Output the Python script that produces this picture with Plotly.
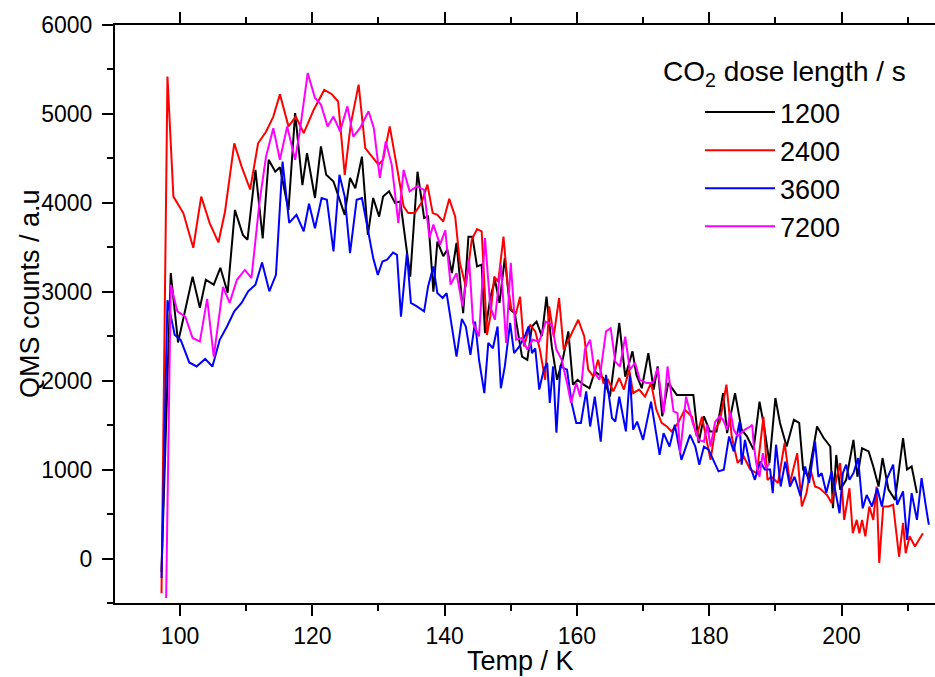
import plotly.graph_objects as go

# ---- data ----
series_names = ["1200", "2400", "3600", "7200"]
series_colors = ["#000000", "#ff0000", "#0000ff", "#ff00ff"]

t_1200 = [97.2, 98.6, 99.7, 101.9, 103.0, 103.9, 105.1, 106.1, 107.2, 108.3, 109.5, 110.2, 111.4, 112.5, 113.4,
          114.4, 115.1, 116.4, 117.4, 118.5, 119.2, 120.4, 121.3, 122.1, 123.2, 124.1, 124.9, 125.7, 126.5, 127.5,
          128.4, 129.2, 130.1, 130.7, 131.6, 132.5, 133.3, 134.8, 135.9, 136.9, 137.5, 138.3, 138.9, 139.8, 140.4,
          141.1, 141.8, 142.8, 143.6, 144.2, 144.9, 145.6, 146.1, 146.9, 147.6, 148.3, 149.1, 149.9, 150.6, 151.7,
          152.5, 153.2, 153.9, 154.7, 155.4, 156.2, 157.0, 157.9, 158.7, 159.4, 160.1, 161.0, 161.9, 162.7, 164.0,
          165.0, 166.4, 167.3, 168.4, 169.0, 169.8, 170.8, 171.6, 172.2, 172.9, 173.8, 175.1, 176.3, 177.6, 178.4,
          179.2, 180.1, 181.1, 182.1, 182.7, 183.9, 184.9, 185.7, 186.7, 187.6, 188.3, 189.1, 190.0, 190.7, 191.7,
          192.8, 193.6, 194.2, 195.0, 196.3, 197.3, 198.3, 198.7, 199.2, 199.8, 200.7, 201.8, 202.4, 203.1, 204.1,
          204.8, 205.6, 206.2, 207.1, 208.1, 209.3, 209.9, 210.6, 211.4]
v_1200 = [-150, 3210, 2430, 3170, 2820, 3135, 3080, 3270, 2990, 3920, 3640, 3585, 4370, 3600, 4485,
          4350, 4400, 3920, 5010, 4200, 4560, 4055, 4635, 4315, 4240, 4035, 3865, 4280, 4165, 4520,
          3640, 4055, 3845, 4070, 4130, 4000, 4015, 3170, 4350, 3830, 3845, 3000, 3565, 3400, 3475,
          3210, 3550, 2760, 3620, 3620, 3285, 3305, 2535, 2930, 3135, 2875, 3380, 2800, 2760, 2270,
          2235, 2610, 2665, 2500, 2945, 2385, 2010, 2255, 2555, 1955, 2010, 1955, 1915, 2105, 2030,
          1820, 2650, 2045, 2330, 2065, 1915, 2310, 1900, 2160, 1600, 1975, 1840, 1840, 1840, 1300,
          1600, 1430, 1430, 1860, 1410, 1860, 1450, 1375, 1225, 1765, 1485, 1075, 1805, 1525, 1260,
          1560, 1525, 1000, 920, 1485, 1355, 1260, 565, 1165, 775, 885, 1335, 920, 1240, 1205,
          1035, 810, 1130, 775, 660, 1355, 1000, 1035, 735]

t_2400 = [97.2, 98.1, 99.0, 100.5, 102.0, 103.2, 104.5, 105.8, 106.8, 108.2, 109.3, 110.6, 111.8, 113.0, 114.1,
          115.1, 116.4, 117.5, 118.7, 120.2, 121.8, 122.9, 123.9, 124.9, 125.8, 127.0, 128.0, 130.0, 130.7, 131.7,
          132.9, 133.8, 134.5, 135.5, 136.5, 137.4, 138.2, 138.9, 139.8, 140.7, 141.6, 142.3, 143.2, 144.1, 144.9,
          145.6, 146.4, 146.9, 147.5, 148.1, 148.9, 149.5, 150.1, 150.8, 151.4, 152.0, 152.9, 153.7, 154.4, 155.2,
          155.8, 156.5, 157.3, 158.0, 159.0, 160.2, 161.1, 161.7, 162.5, 163.2, 164.0, 164.7, 165.5, 166.4, 167.1,
          167.9, 168.5, 169.4, 170.3, 171.2, 172.0, 172.8, 173.6, 174.3, 175.3, 176.3, 177.4, 178.1, 178.9, 179.5,
          180.2, 180.9, 181.6, 182.6, 183.4, 184.3, 185.2, 186.2, 187.2, 188.2, 188.8, 189.4, 190.4, 191.4, 192.2,
          193.3, 194.0, 194.7, 195.3, 196.0, 196.7, 197.8, 198.5, 199.2, 199.8, 200.4, 201.2, 201.7, 202.3, 202.7,
          203.1, 203.6, 204.2, 204.8, 205.3, 205.7, 206.3, 207.1, 207.8, 208.7, 209.3, 209.7, 210.3, 211.1, 212.3]
v_2400 = [-390, 5420, 4070, 3885, 3495, 4070, 3770, 3555, 3900, 4670, 4410, 4150, 4670, 4800, 4970,
          5220, 4860, 4970, 4785, 5045, 5270, 5225, 5140, 4315, 4880, 5330, 4615, 4430, 4485, 4860,
          4355, 3960, 3885, 3885, 4000, 4205, 3885, 3865, 3790, 4045, 3845, 3325, 3060, 3585, 3705,
          3680, 2515, 2720, 3170, 3115, 3620, 3100, 2800, 2760, 2945, 2385, 2630, 2555, 2350, 2010,
          2835, 2500, 2930, 2350, 2500, 2685, 2500, 2125, 2045, 2235, 1975, 2010, 1880, 2030, 1900,
          2125, 1860, 1900, 1820, 1975, 1675, 1525, 1485, 1430, 1525, 1675, 1595, 1375, 1595, 1375,
          1110, 1450, 1540, 1955, 1375, 1075, 1150, 1000, 960, 1595, 885, 920, 850, 1300, 850,
          1185, 585, 735, 1000, 810, 790, 715, 625, 885, 1075, 435, 790, 285, 435, 285,
          435, 250, 585, 435, 810, -50, 585, 585, 605, 20, 400, 60, 250, 135, 285]

t_3600 = [97.2, 98.1, 99.2, 100.1, 101.4, 102.5, 103.8, 104.9, 106.0, 107.1, 108.2, 109.3, 110.3, 111.4, 112.4,
          113.5, 114.5, 115.5, 116.5, 117.6, 118.7, 119.5, 120.4, 121.4, 122.2, 123.2, 124.1, 124.9, 125.7, 126.7,
          127.5, 128.5, 129.2, 129.9, 130.6, 131.3, 132.2, 132.8, 133.4, 134.3, 134.9, 135.8, 136.9, 137.5, 138.3,
          138.9, 139.7, 140.3, 141.1, 141.8, 142.6, 143.2, 143.9, 144.6, 145.2, 146.0, 146.6, 147.3, 148.0, 148.5,
          149.1, 149.9, 150.5, 151.3, 152.2, 152.7, 153.2, 153.7, 154.3, 155.0, 155.5, 155.9, 156.4, 156.9, 157.5,
          158.5, 159.2, 159.9, 160.6, 161.4, 162.0, 162.7, 163.6, 164.4, 165.3, 165.8, 166.4, 167.4, 168.0, 168.5,
          169.1, 170.0, 171.2, 172.5, 173.1, 174.0, 174.8, 175.8, 177.1, 177.9, 178.5, 179.2, 179.9, 180.5, 181.4,
          182.2, 183.0, 183.7, 184.6, 184.9, 185.4, 186.2, 186.9, 187.7, 188.4, 189.2, 189.6, 190.1, 190.8, 191.5,
          192.2, 192.9, 193.8, 194.5, 195.1, 196.0, 196.5, 197.0, 197.7, 198.5, 199.0, 199.7, 200.2, 200.7, 201.2,
          201.8, 202.5, 203.2, 203.8, 204.6, 205.4, 206.1, 206.8, 207.8, 208.4, 209.3, 209.9, 210.6, 211.4, 212.1,
          212.8, 213.2]
v_3600 = [-220, 2905, 2515, 2460, 2205, 2160, 2245, 2160, 2460, 2610, 2780, 2875, 3005, 3080, 3330,
          3005, 3190, 4465, 3775, 3865, 3680, 3990, 3715, 4055, 4035, 3455, 4315, 4070, 3435, 4035,
          4055, 3640, 3380, 3190, 3340, 3360, 3440, 3415, 2720, 3435, 2875, 2835, 2780, 3060, 3285,
          2985, 2930, 2985, 2575, 2270, 2695, 2610, 2290, 2665, 2235, 1860, 2425, 2365, 2610, 1915,
          2160, 2650, 2310, 2385, 2515, 2610, 2310, 2365, 1900, 2125, 2200, 1750, 2160, 1415, 2160,
          2125, 1750, 1525, 1525, 1880, 1485, 1820, 1315, 2065, 1580, 1540, 1820, 1430, 2065, 1450,
          1540, 1335, 1765, 1165, 1410, 1260, 1505, 1110, 1390, 1260, 1055, 1260, 1225, 1130, 980,
          1000, 1373, 1205, 1540, 1055, 1335, 1035, 885, 1090, 1000, 1000, 735, 1280, 810, 1090,
          810, 920, 700, 1035, 850, 1315, 920, 960, 740, 980, 775, 510, 960, 1055, 885,
          960, 1130, 565, 715, 585, 790, 585, 885, 1055, 605, 755, 210, 735, 435, 905,
          565, 380]

t_7200 = [97.9, 98.6, 99.6, 100.8, 101.9, 103.0, 104.1, 105.1, 106.5, 107.5, 108.6, 109.8, 110.8, 112.0, 113.0,
          114.1, 115.1, 116.2, 117.4, 118.1, 119.3, 120.4, 121.3, 122.3, 123.2, 124.2, 125.3, 126.2, 127.2, 128.5,
          129.3, 130.2, 131.1, 132.0, 133.0, 133.8, 134.7, 135.8, 136.9, 137.7, 138.3, 139.3, 140.1, 140.9, 141.8,
          142.7, 143.7, 144.3, 145.2, 146.1, 146.9, 147.6, 148.5, 149.3, 150.0, 150.8, 151.7, 152.5, 153.3, 154.3,
          155.3, 156.2, 156.9, 157.7, 158.5, 159.1, 159.9, 160.5, 161.2, 162.0, 162.7, 163.4, 164.4, 165.1, 165.8,
          166.5, 167.3, 168.0, 168.8, 169.5, 170.5, 171.5, 172.2, 173.1, 173.7, 174.6, 175.2, 175.6, 176.5, 177.5,
          178.4, 179.2, 179.7, 180.2, 180.9, 181.6, 182.1, 182.7, 183.2, 183.7, 184.3, 184.8, 185.4, 186.2, 186.5,
          186.7, 187.1, 187.6, 188.1, 188.6, 189.1]
v_7200 = [-445, 3080, 2780, 2720, 2480, 2440, 2920, 2270, 3055, 2875, 3135, 3245, 3155, 4000, 4520,
          4840, 4485, 4860, 4485, 4800, 5460, 5180, 5105, 4860, 4970, 4805, 5085, 4745, 4840, 5030,
          4840, 4280, 4690, 4430, 3775, 4370, 4130, 4185, 4145, 3605, 3755, 3530, 3690, 3080, 3210,
          2835, 3360, 2650, 2500, 3605, 2835, 2685, 3305, 2425, 3325, 2460, 2480, 2350, 2460, 2440,
          2665, 2630, 2350, 2235, 1975, 1750, 1975, 1820, 2350, 2460, 2085, 2010, 2555, 2590, 2215,
          2160, 2495, 2125, 2200, 2010, 1975, 1975, 2140, 1635, 2160, 1655, 1635, 1185, 1820, 1525,
          1335, 1315, 1505, 1260, 1540, 1600, 1560, 1450, 1655, 1450, 1375, 1410, 1450, 1485, 1505,
          1300, 1075, 920, 1185, 1015, 1075]

x_tick_vals = [100, 120, 140, 160, 180, 200]
y_tick_vals = [0, 1000, 2000, 3000, 4000, 5000, 6000]

all_t = [t_1200, t_2400, t_3600, t_7200]
all_v = [v_1200, v_2400, v_3600, v_7200]

FONT = "Liberation Sans, Arial, sans-serif"

fig = go.Figure()
for name, color, t, v in zip(series_names, series_colors, all_t, all_v):
    fig.add_trace(go.Scatter(x=t, y=v, mode="lines", name=name,
                             line=dict(color=color, width=2)))

W, H = 935, 677
L, R, T, B = 115, 0, 25, 74
pw, ph = W - L - R, H - T - B

def px_x(p):
    return (p - L) / pw

def px_y(p):
    return (H - B - p) / ph

fig.update_layout(
    width=W, height=H,
    margin=dict(l=L, r=R, t=T, b=B, pad=0),
    paper_bgcolor="white", plot_bgcolor="white",
    font=dict(family=FONT, color="black", size=22),
    showlegend=True,
    legend=dict(x=px_x(700), y=px_y(88), xanchor="left", yanchor="top",
                font=dict(family=FONT, size=27, color="black"),
                bgcolor="rgba(0,0,0,0)", borderwidth=0,
                itemwidth=70, tracegroupgap=0),
    xaxis=dict(range=[90.17, 214.13], showgrid=False, zeroline=False,
               showline=True, linecolor="black", linewidth=2, mirror="ticks",
               ticks="outside", ticklen=11, tickwidth=2, tickcolor="black",
               tickvals=x_tick_vals,
               tickfont=dict(family=FONT, size=23, color="black"),
               minor=dict(dtick=10, tick0=90, ticks="outside", ticklen=6,
                          tickwidth=2, tickcolor="black", showgrid=False)),
    yaxis=dict(range=[-500, 6000], showgrid=False, zeroline=False,
               showline=True, linecolor="black", linewidth=2, mirror=False,
               ticks="outside", ticklen=11, tickwidth=2, tickcolor="black",
               tickvals=y_tick_vals, ticklabelstandoff=5,
               tickfont=dict(family=FONT, size=23, color="black"),
               minor=dict(dtick=500, tick0=0, ticks="outside", ticklen=6,
                          tickwidth=2, tickcolor="black", showgrid=False)),
    annotations=[
        dict(text="Temp / K", xref="paper", yref="paper", x=px_x(520), y=px_y(661),
             xanchor="center", yanchor="middle", showarrow=False,
             font=dict(family=FONT, size=27, color="black")),
        dict(text="QMS counts / a.u", xref="paper", yref="paper", x=px_x(30), y=px_y(294),
             xanchor="center", yanchor="middle", textangle=-90, showarrow=False,
             font=dict(family=FONT, size=27, color="black")),
        dict(text="CO<sub>2</sub> dose length / s", xref="paper", yref="paper",
             x=px_x(661), y=px_y(74), xanchor="left", yanchor="middle", showarrow=False,
             font=dict(family=FONT, size=28, color="black")),
    ],
)

fig.write_html("out.html")
